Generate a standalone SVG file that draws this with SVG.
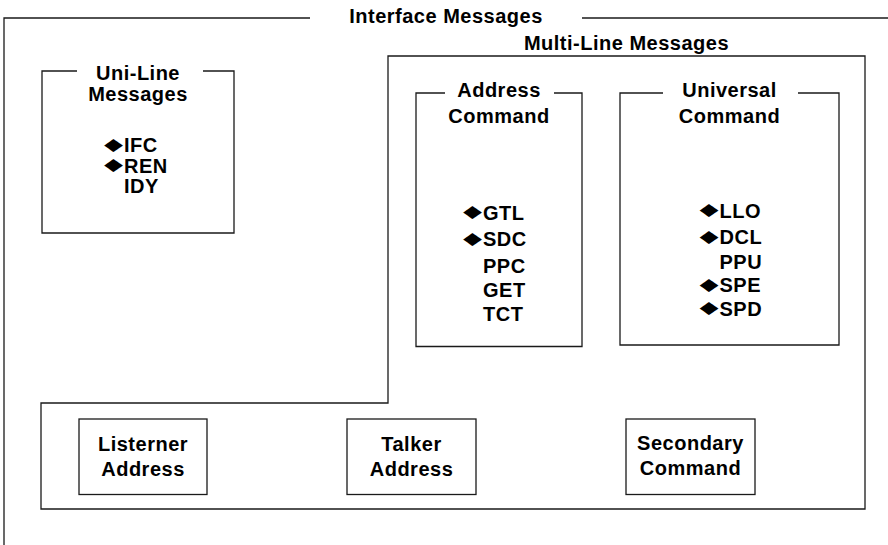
<svg xmlns="http://www.w3.org/2000/svg" width="888" height="545" viewBox="0 0 888 545">
<style>
  .ln { fill: none; stroke: #1a1a1a; stroke-width: 1.3; }
  .t { font-family: "Liberation Sans", Arial, Helvetica, sans-serif; font-weight: bold; font-size: 20px; letter-spacing: 0.5px; fill: #000; }
  .c { text-anchor: middle; }
  .dia { font-family: "DejaVu Sans", sans-serif; font-size: 22px; fill: #000; text-anchor: middle; }
</style>
<rect width="888" height="545" fill="#fff"/>

<g id="interface-messages">
  <path class="ln" d="M310,18 H4 V545"/>
  <path class="ln" d="M582,18 H888"/>
  <text class="t c" x="446" y="22.5">Interface Messages</text>
</g>

<g id="multi-line-messages">
  <path class="ln" d="M388,403 V56 H865 V509 H41 V403 Z"/>
  <text class="t c" x="626.5" y="49.5">Multi-Line Messages</text>
</g>

<g id="uni-line-messages">
  <path class="ln" d="M77,71 H42 V233 H234 V71 H203"/>
  <text class="t c" x="138" y="80">Uni-Line</text>
  <text class="t c" x="138" y="100.5">Messages</text>
  <text class="dia" transform="translate(113.5,149.6) scale(1.12,0.78)">◆</text>
  <text class="t" x="124" y="152">IFC</text>
  <text class="dia" transform="translate(113.5,170.1) scale(1.12,0.78)">◆</text>
  <text class="t" x="124" y="172.5">REN</text>
  <text class="t" x="124" y="193">IDY</text>
</g>

<g id="address-command">
  <path class="ln" d="M445,93 H416 V346.5 H582 V93 H554"/>
  <text class="t c" x="499" y="96.5">Address</text>
  <text class="t c" x="499" y="122.5">Command</text>
  <text class="dia" transform="translate(472.5,217.1) scale(1.12,0.78)">◆</text>
  <text class="t" x="483" y="219.5">GTL</text>
  <text class="dia" transform="translate(472.5,243.6) scale(1.12,0.78)">◆</text>
  <text class="t" x="483" y="246">SDC</text>
  <text class="t" x="483" y="272.5">PPC</text>
  <text class="t" x="483" y="296.5">GET</text>
  <text class="t" x="483" y="320.5">TCT</text>
</g>

<g id="universal-command">
  <path class="ln" d="M663,93 H620 V345 H839 V93 H798"/>
  <text class="t c" x="729.5" y="96.5">Universal</text>
  <text class="t c" x="729.5" y="122.5">Command</text>
  <text class="dia" transform="translate(709,215.1) scale(1.12,0.78)">◆</text>
  <text class="t" x="719.5" y="217.5">LLO</text>
  <text class="dia" transform="translate(709,241.6) scale(1.12,0.78)">◆</text>
  <text class="t" x="719.5" y="244">DCL</text>
  <text class="t" x="719.5" y="268.5">PPU</text>
  <text class="dia" transform="translate(709,289.6) scale(1.12,0.78)">◆</text>
  <text class="t" x="719.5" y="292">SPE</text>
  <text class="dia" transform="translate(709,313.1) scale(1.12,0.78)">◆</text>
  <text class="t" x="719.5" y="315.5">SPD</text>
</g>

<g id="listener-address">
  <rect class="ln" x="79" y="419" width="128" height="75.5"/>
  <text class="t c" x="143" y="451">Listerner</text>
  <text class="t c" x="143" y="475.5">Address</text>
</g>

<g id="talker-address">
  <rect class="ln" x="347" y="419" width="129" height="75.5"/>
  <text class="t c" x="411.5" y="450.5">Talker</text>
  <text class="t c" x="411.5" y="475.5">Address</text>
</g>

<g id="secondary-command">
  <rect class="ln" x="626" y="419" width="129" height="75.5"/>
  <text class="t c" x="690.5" y="450">Secondary</text>
  <text class="t c" x="690.5" y="474.5">Command</text>
</g>

<g id="connectors"></g>
</svg>
